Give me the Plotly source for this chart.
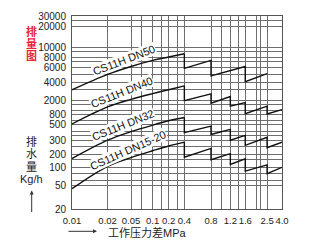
import numpy as np
import plotly.graph_objects as go

# ---------------- data ----------------
# working pressure difference (MPa) for the smooth part of every curve
pressure = [0.01, 0.02, 0.05, 0.1, 0.2, 0.4]
dn50_curve = [3000, 5000, 6200, 7300, 8000, 8600]
dn40_curve = [520, 1290, 2060, 2590, 3020, 3520]
dn32_curve = [157, 306, 402, 495, 598, 692]
dn15_curve = [44.5, 104, 165, 221, 256, 288]

# saw-tooth part (orifice changes) above 0.4 MPa
step_pressure = [0.4, 0.4, 0.8, 0.8, 1.2, 1.2, 1.6, 1.6, 2.5, 2.5, 4.0]
step_pressure_dn50 = [0.4, 0.4, 0.8, 0.8, 1.6, 1.6, 2.5]
dn50_steps = [8600, 5900, 7300, 4800, 6200, 4100, 5100]
dn40_steps = [3520, 1930, 2560, 1640, 2300, 1350, 1700, 830, 1350, 815, 1080]
dn32_steps = [692, 390, 481, 367, 433, 306, 356, 261, 335, 243, 288]
dn15_steps = [288, 169, 238, 147, 202, 115, 155, 86, 112, 78, 99]

series_names = ["CS11H DN50", "CS11H DN40", "CS11H DN32", "CS11H DN15-20"]

# tick / grid values and labels
x_tick_values = [0.01, 0.02, 0.05, 0.07, 0.1, 0.15, 0.2, 0.3, 0.4, 0.8, 1.0, 1.2, 1.4,
                 1.6, 2.0, 2.2, 2.5, 4.0]
x_tick_labels = ["0.01", "0.02", "0.05", "", "0.1", "", "0.2", "", "0.4", "0.8", "",
                 "1.2", "", "1.6", "", "", "2.5", "4.0"]
y_tick_values = [20, 50, 60, 80, 100, 150, 200, 250, 300, 350, 400, 500, 600, 800, 1000,
                 1500, 2000, 3000, 4000, 5000, 6000, 7000, 8000, 9000, 10000, 20000,
                 25000, 30000]
y_tick_labels = ["20", "50", "", "", "100", "", "200", "", "300", "", "", "500", "", "800",
                 "", "", "2000", "", "4000", "", "6000", "", "8000", "", "10000", "20000",
                 "", "30000"]

# ---------------- the chart's own non-uniform (hand-drawn log-like) scale ----------------
x_scale_vals = [0.01, 0.02, 0.05, 0.1, 0.2, 0.4, 0.8, 1.2, 1.6, 2.5, 4.0]
x_scale_frac = [0.0, 0.1695, 0.281, 0.384, 0.460, 0.535, 0.662, 0.754, 0.825, 0.929, 1.0]
y_scale_vals = [20, 50, 100, 200, 300, 500, 800, 2000, 4000, 6000, 8000, 10000, 20000, 30000]
y_scale_frac = [0.0, 0.1206, 0.2176, 0.2849, 0.3533, 0.4362, 0.4910, 0.5643, 0.6548,
                0.7322, 0.7874, 0.8392, 0.9447, 1.0]


def sx(v):
    return np.interp(np.log10(v), np.log10(x_scale_vals), x_scale_frac)


def sy(v):
    return np.interp(np.log10(v), np.log10(y_scale_vals), y_scale_frac)


LINE = dict(color="#111111", width=1.4)
fig = go.Figure()
curves = [dn50_curve, dn40_curve, dn32_curve, dn15_curve]
steps = [(step_pressure_dn50, dn50_steps), (step_pressure, dn40_steps),
         (step_pressure, dn32_steps), (step_pressure, dn15_steps)]
for name, c, (sp, s) in zip(series_names, curves, steps):
    fig.add_trace(go.Scatter(x=sx(pressure), y=sy(c), mode="lines", name=name,
                             line=dict(shape="spline", smoothing=1.0, **LINE),
                             showlegend=False, hoverinfo="skip"))
    fig.add_trace(go.Scatter(x=sx(sp), y=sy(s), mode="lines", name=name,
                             line=dict(shape="linear", **LINE),
                             showlegend=False, hoverinfo="skip"))

# curve labels (pressure, flow) where the text sits and its angle
label_pos = [(0.038, 7000, -21), (0.0357, 2500, -22), (0.0365, 470, -22), (0.045, 214, -24)]
annotations = []
for name, (p, q, ang) in zip(series_names, label_pos):
    annotations.append(dict(x=float(sx(p)), y=float(sy(q)), xref="x", yref="y", text=name,
                            showarrow=False, textangle=ang, yshift=2,
                            bgcolor="white", borderpad=0,
                            font=dict(family="Liberation Sans, Arial", size=11, color="#111")))

CJK = "Liberation Sans, Noto Sans CJK SC"
L, R, T, B = 72, 34, 10, 39
W, H = 316 - L - R, 248 - T - B


def px(xp):
    return (xp - L) / W


def py(yp):
    return (T + H - yp) / H


for ch, yy in zip("排量图", [25.5, 38.5, 51.5]):
    annotations.append(dict(x=px(31.7), y=py(yy), xref="paper", yref="paper",
                            text="<b>%s</b>" % ch, showarrow=False, borderpad=0,
                            xanchor="center", yanchor="middle",
                            font=dict(family=CJK, size=11, color="#e8253d")))
for ch, yy in zip(["排", "水", "量", "Kg/h"], [139.5, 152.5, 165.5, 178.5]):
    annotations.append(dict(x=px(31.7), y=py(yy), xref="paper", yref="paper",
                            text=ch, showarrow=False, borderpad=0,
                            xanchor="center", yanchor="middle",
                            font=dict(family=CJK, size=11, color="#222")))
# up arrow
annotations.append(dict(x=px(31.7), y=py(190), xref="paper", yref="paper", text="",
                        showarrow=True, ax=0, ay=23, arrowhead=2, arrowsize=0.8,
                        arrowwidth=1, arrowcolor="#333"))
# right arrow + x title
annotations.append(dict(x=px(97), y=py(232), xref="paper", yref="paper", text="",
                        showarrow=True, ax=-30, ay=0, arrowhead=2, arrowsize=0.8,
                        arrowwidth=1, arrowcolor="#333"))
annotations.append(dict(x=px(106), y=py(233.5), xref="paper", yref="paper", text="工作压力差MPa",
                        showarrow=False, xanchor="left", yanchor="middle",
                        font=dict(family=CJK, size=11, color="#222")))

axis_common = dict(showgrid=True, gridcolor="#6e6e6e", gridwidth=1, zeroline=False,
                   showline=True, linecolor="#555", linewidth=1, mirror=True, ticks="")
fig.update_layout(
    width=316, height=248, margin=dict(l=L, r=R, t=T, b=B),
    paper_bgcolor="white", plot_bgcolor="white",
    xaxis=dict(range=[0, 1], tickmode="array", tickvals=sx(x_tick_values).tolist(),
               ticktext=x_tick_labels, ticklabelstandoff=3, tickangle=0,
               tickfont=dict(family="Liberation Sans, Arial", size=9.5, color="#222"),
               **axis_common),
    yaxis=dict(range=[0, 1], tickmode="array", tickvals=sy(y_tick_values).tolist(),
               ticktext=y_tick_labels, ticklabelstandoff=3,
               tickfont=dict(family="Liberation Sans, Arial", size=10, color="#222"),
               **axis_common),
    annotations=annotations,
)
fig.write_html("out.html")
